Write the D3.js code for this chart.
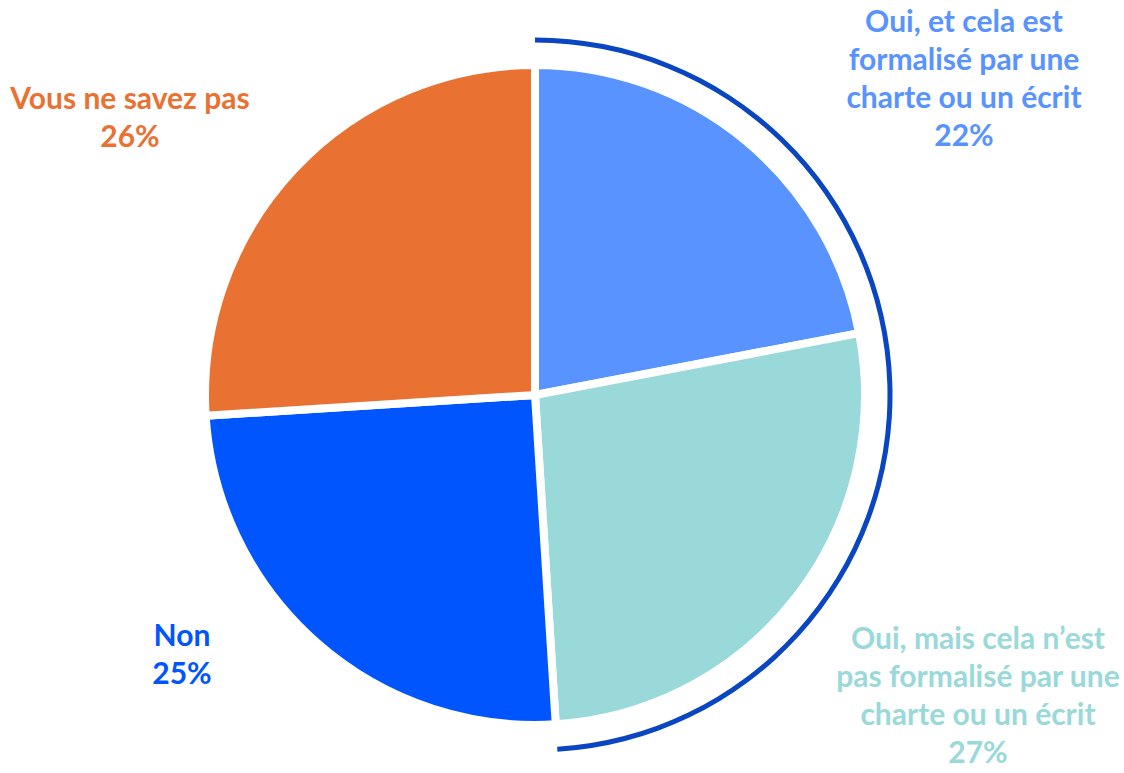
<!DOCTYPE html>
<html>
<head>
<meta charset="utf-8">
<script src="https://cdn.jsdelivr.net/npm/d3@7"></script>
<style>
  html, body { margin: 0; padding: 0; background: #fff; }
  svg { display: block; }
</style>
</head>
<body>
<div id="chart"></div>
<script>
// answers, in clockwise order from 12 o'clock
var categories = [
    "Oui, et cela est formalisé par une charte ou un écrit",
    "Oui, mais cela n’est pas formalisé par une charte ou un écrit",
    "Non",
    "Vous ne savez pas"
];
var values = [22, 27, 25, 26];
var labelLines = [
    ["Oui, et cela est", "formalisé par une", "charte ou un écrit"],
    ["Oui, mais cela n’est", "pas formalisé par une", "charte ou un écrit"],
    ["Non"],
    ["Vous ne savez pas"]
];
var colors = ["#5893FF", "#99D9D9", "#0055FF", "#E97132"];

// where each label block goes (centre x, first baseline y)
var labelPos = [
    { x: 964, y: 32 },
    { x: 978, y: 649 },
    { x: 182, y: 646 },
    { x: 130, y: 109 }
];

var W = 1124, H = 773;
var cx = 535, cy = 395, radius = 330;
var lineH = 38;

var svg = d3.select("#chart").append("svg")
    .attr("width", W)
    .attr("height", H);

var g = svg.append("g")
    .attr("transform", "translate(" + cx + "," + cy + ")");

var pie = d3.pie().sort(null).value(function(d) { return d; });
var arcs = pie(values);

var arc = d3.arc().innerRadius(0).outerRadius(radius);

g.selectAll("path.slice")
    .data(arcs)
    .enter().append("path")
    .attr("class", "slice")
    .attr("d", arc)
    .attr("fill", function(d, i) { return colors[i]; })
    .attr("stroke", "#fff")
    .attr("stroke-width", 8)
    .attr("stroke-linejoin", "miter");

// bracket arc around the two "Oui" slices
var ouiEnd = arcs[1].endAngle;
g.append("path")
    .attr("d", d3.arc()
        .innerRadius(352.5)
        .outerRadius(357.5)
        .startAngle(0)
        .endAngle(ouiEnd)())
    .attr("fill", "#0A45C2");

var labels = svg.selectAll("text.lbl")
    .data(categories)
    .enter().append("text")
    .attr("class", "lbl")
    .attr("text-anchor", "middle")
    .attr("font-family", "Lato, 'Open Sans', sans-serif")
    .attr("font-weight", "bold")
    .attr("font-size", 30)
    .attr("fill", function(d, i) { return colors[i]; });

labels.each(function(d, i) {
    var t = d3.select(this);
    var lines = labelLines[i].concat([values[i] + "%"]);
    lines.forEach(function(line, j) {
        t.append("tspan")
            .attr("x", labelPos[i].x)
            .attr("y", labelPos[i].y + j * lineH)
            .text(line);
    });
});
</script>
</body>
</html>
